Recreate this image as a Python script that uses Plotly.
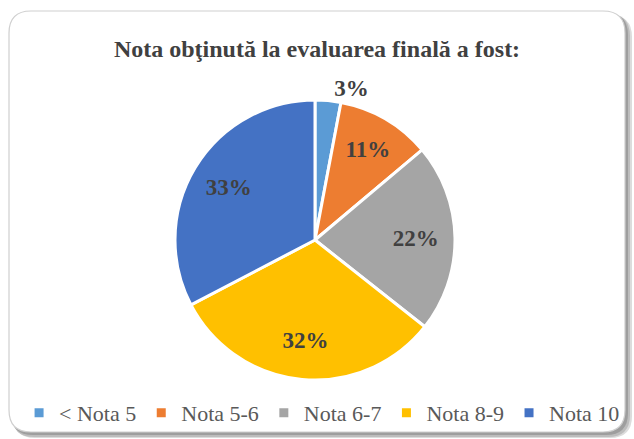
import plotly.graph_objects as go

labels = ["< Nota 5", "Nota 5-6", "Nota 6-7", "Nota 8-9", "Nota 10"]
values = [3, 11, 22, 32, 33]
colors = ["#5B9BD5", "#ED7D31", "#A5A5A5", "#FFC000", "#4472C4"]
text_positions = ["outside", "inside", "inside", "inside", "inside"]
title_text = "Nota obţinută la evaluarea finală a fost:"

W, H = 634, 439
FONT = "Liberation Serif, Times New Roman, serif"


def rr_path(x0, y0, x1, y1, r):
    # pixel coords (top-left origin) -> paper coords
    def p(x, y):
        return f"{x / W:.5f},{1 - y / H:.5f}"
    return (f"M {p(x0 + r, y0)} L {p(x1 - r, y0)} Q {p(x1, y0)} {p(x1, y0 + r)} "
            f"L {p(x1, y1 - r)} Q {p(x1, y1)} {p(x1 - r, y1)} "
            f"L {p(x0 + r, y1)} Q {p(x0, y1)} {p(x0, y1 - r)} "
            f"L {p(x0, y0 + r)} Q {p(x0, y0)} {p(x0 + r, y0)} Z")


cx, cy, rad = 315, 240, 140
domain = dict(x=[(cx - rad) / W, (cx + rad) / W], y=[1 - (cy + rad) / H, 1 - (cy - rad) / H])

# coloured slices
fig = go.Figure(go.Pie(
    labels=labels,
    values=values,
    sort=False,
    direction="clockwise",
    rotation=0,
    marker=dict(colors=colors, line=dict(color="white", width=3)),
    textinfo="none",
    domain=domain,
    hoverinfo="label+percent",
))

# transparent ring carrying the percentage labels (places them further out)
fig.add_trace(go.Pie(
    labels=labels,
    values=values,
    sort=False,
    direction="clockwise",
    rotation=0,
    hole=0.44,
    marker=dict(colors=["rgba(0,0,0,0)"] * len(values), line=dict(width=0)),
    textinfo="percent",
    textposition=text_positions,
    texttemplate="<b>%{percent:.0%}</b>",
    textfont=dict(family=FONT, size=23, color="#404040"),
    insidetextorientation="horizontal",
    outsidetextfont=dict(family=FONT, size=23, color="#404040"),
    domain=domain,
    showlegend=False,
    hoverinfo="skip",
))

shadow = [
    (13, 15, 632, 438, "#dcdcdc"),
    (12, 14, 630, 437, "#bdbdbd"),
    (11, 13, 628, 435, "#9e9e9e"),
]
shapes = [
    dict(type="path", xref="paper", yref="paper", path=rr_path(x0, y0, x1, y1, 22),
         fillcolor=c, line=dict(width=0), layer="below")
    for (x0, y0, x1, y1, c) in shadow
]
shapes.append(
    dict(type="path", xref="paper", yref="paper", path=rr_path(9, 11, 625, 432, 22),
         fillcolor="white", line=dict(color="#cfcfcf", width=1.2), layer="below")
)

fig.update_layout(
    width=W, height=H,
    margin=dict(l=0, r=0, t=0, b=0, autoexpand=False),
    paper_bgcolor="white",
    plot_bgcolor="white",
    shapes=shapes,
    title=dict(text=f"<b>{title_text}</b>", x=0.5, xanchor="center", y=1 - 49 / H, yanchor="middle",
               font=dict(family=FONT, size=24, color="#404040")),
    showlegend=True,
    legend=dict(orientation="h", x=0.508, xanchor="center", y=1 - 413 / H, yanchor="middle",
                font=dict(family=FONT, size=22, color="#595959"),
                itemwidth=30, tracegroupgap=0, bgcolor="rgba(0,0,0,0)"),
)

fig.write_html("out.html", config={"displayModeBar": False},
               post_script="document.body.style.margin='0';")
